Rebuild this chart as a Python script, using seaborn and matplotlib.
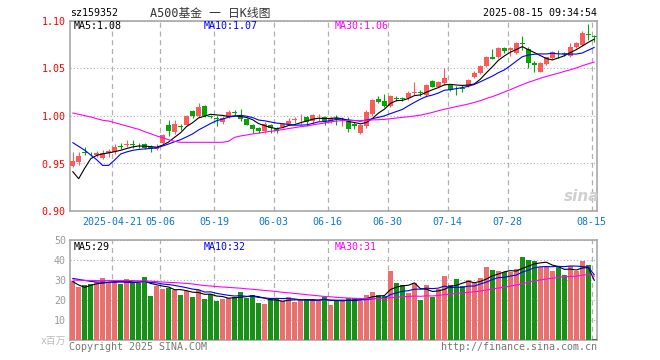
import numpy as np
import pandas as pd
import matplotlib
matplotlib.use("Agg")
import matplotlib.pyplot as plt
import seaborn as sns

# daily K line of sz159352, 2025-04-10 .. 2025-08-15 (88 trading days)
opens = [0.947, 0.952, 0.9625, 0.9605, 0.959, 0.956, 0.961, 0.9625, 0.9685, 0.969,
         0.9708, 0.9685, 0.9705, 0.967, 0.965, 0.9713, 0.9905, 0.9835, 0.990, 0.9905,
         1.005, 1.000, 1.0105, 1.0005, 0.998, 0.994, 0.9993, 1.0045, 1.001, 0.9965,
         0.9905, 0.987, 0.9837, 0.9908, 0.986, 0.9888, 0.9916, 0.9957, 0.9965, 0.9986,
         0.9947, 0.9995, 0.9993, 0.994, 0.9978, 0.995, 0.996, 0.9915, 0.9825, 0.989,
         1.002, 1.0175, 1.016, 1.0105, 1.0187, 1.0187, 1.0186, 1.0245, 1.0255, 1.022,
         1.0368, 1.031, 1.0345, 1.0326, 1.0295, 1.0295, 1.0316, 1.0407, 1.0456, 1.0526,
         1.0618, 1.0618, 1.072, 1.069, 1.066, 1.0765, 1.070, 1.0555, 1.0467, 1.0547,
         1.0607, 1.0665, 1.066, 1.063, 1.073, 1.0747, 1.0855, 1.0845]
highs = [0.962, 0.9625, 0.967, 0.962, 0.963, 0.964, 0.965, 0.971, 0.972, 0.975,
         0.975, 0.972, 0.9715, 0.969, 0.970, 0.981, 0.996, 0.9955, 0.9915, 1.001,
         1.0065, 1.0135, 1.0115, 1.0015, 0.9995, 1.000, 1.0063, 1.006, 1.0075, 0.9975,
         0.992, 0.9885, 0.994, 0.992, 0.988, 0.993, 0.9975, 0.9986, 1.002, 1.000,
         1.002, 1.002, 1.000, 0.9985, 1.001, 0.9985, 0.999, 0.994, 0.992, 1.0065,
         1.018, 1.021, 1.023, 1.022, 1.021, 1.0205, 1.026, 1.036, 1.0275, 1.034,
         1.038, 1.037, 1.050, 1.034, 1.032, 1.033, 1.039, 1.047, 1.0535, 1.063,
         1.071, 1.0725, 1.0725, 1.073, 1.0775, 1.084, 1.0725, 1.058, 1.057, 1.062,
         1.068, 1.0695, 1.067, 1.077, 1.078, 1.089, 1.097, 1.085]
lows = [0.946, 0.948, 0.959, 0.958, 0.957, 0.955, 0.957, 0.960, 0.965, 0.967,
        0.966, 0.966, 0.965, 0.962, 0.964, 0.970, 0.979, 0.981, 0.985, 0.990,
        0.998, 0.999, 0.999, 0.9975, 0.989, 0.992, 0.9975, 1.001, 0.995, 0.990,
        0.9825, 0.982, 0.9825, 0.9825, 0.982, 0.987, 0.9905, 0.993, 0.992, 0.9895,
        0.992, 0.995, 0.9905, 0.993, 0.9905, 0.9895, 0.9835, 0.986, 0.981, 0.9875,
        1.000, 1.0135, 1.0098, 1.0095, 1.0155, 1.016, 1.017, 1.022, 1.0215, 1.0205,
        1.0305, 1.030, 1.033, 1.026, 1.0225, 1.025, 1.031, 1.040, 1.0445, 1.052,
        1.0597, 1.061, 1.066, 1.063, 1.0655, 1.069, 1.051, 1.046, 1.046, 1.054,
        1.060, 1.061, 1.0635, 1.0625, 1.072, 1.074, 1.0805, 1.078]
closes = [0.9525, 0.958, 0.9615, 0.9595, 0.9612, 0.9607, 0.963, 0.9677, 0.967, 0.9705,
          0.969, 0.968, 0.9667, 0.965, 0.967, 0.980, 0.9845, 0.9915, 0.9888, 1.000,
          1.000, 1.0098, 1.000, 0.9993, 0.9965, 0.9975, 1.0042, 1.003, 0.9965, 0.991,
          0.986, 0.9837, 0.992, 0.987, 0.9845, 0.9916, 0.995, 0.9963, 0.9972, 0.9934,
          1.001, 1.0003, 0.995, 0.9975, 0.9965, 0.9958, 0.986, 0.990, 0.9905, 1.004,
          1.0165, 1.0145, 1.0105, 1.021, 1.0183, 1.018, 1.0246, 1.0255, 1.0245, 1.0326,
          1.031, 1.036, 1.0397, 1.0274, 1.029, 1.0288, 1.038, 1.0456, 1.0526, 1.0625,
          1.0604, 1.072, 1.0688, 1.072, 1.077, 1.0755, 1.0555, 1.054, 1.056, 1.0618,
          1.0677, 1.066, 1.0655, 1.073, 1.077, 1.087, 1.085, 1.083]
volumes = [29.5, 26.7, 27.5, 28.0, 28.8, 31.2, 28.7, 29.2, 28.0, 30.5,
           28.7, 28.3, 31.7, 22.2, 27.2, 25.5, 25.8, 25.0, 22.5, 24.5,
           21.7, 25.0, 20.5, 23.0, 19.7, 20.5, 20.8, 21.7, 24.2, 21.2,
           22.5, 18.7, 18.0, 20.3, 20.3, 19.5, 21.3, 19.2, 20.0, 20.5,
           20.0, 20.0, 21.3, 17.5, 19.7, 19.7, 20.8, 20.8, 19.7, 22.5,
           24.2, 22.5, 22.2, 34.7, 28.7, 27.5, 23.7, 28.3, 20.0, 27.5,
           21.7, 25.3, 32.0, 27.5, 30.3, 27.0, 30.0, 28.3, 30.8, 36.3,
           35.0, 34.5, 33.8, 33.8, 35.3, 41.7, 40.0, 39.5, 36.3, 37.0,
           34.5, 36.3, 32.5, 37.0, 34.7, 39.5, 37.5, 0.5]

# moving averages at the left edge (windows start before day 0)
ma5_head = [0.9415, 0.934, 0.945, 0.955]
ma10_head = [0.972, 0.968, 0.964, 0.959, 0.954, 0.948, 0.948, 0.9537, 0.960]
ma30_head = [1.0032, 1.0018, 1.0004, 0.999, 0.9972, 0.9955, 0.9947, 0.993, 0.9912, 0.9895,
             0.9877, 0.986, 0.9835, 0.9814, 0.979, 0.9772, 0.975, 0.9733, 0.9723, 0.9723,
             0.9723, 0.9723, 0.9723, 0.9723, 0.9723, 0.9723, 0.9735, 0.9775, 0.979]
vma5_head = [29.2, 27.5, 26.3, 27.3]
vma10_head = [30.8, 30.3, 29.8, 29.3, 29.0, 28.9, 28.9, 28.9, 29.0]
vma30_head = [30.0, 29.9, 29.8, 29.8, 29.7, 29.7, 29.7, 29.7, 29.7, 29.7,
              29.7, 29.6, 29.5, 29.4, 29.2, 29.0, 28.8, 28.7, 28.5, 28.3,
              28.0, 27.6, 27.2, 27.0, 26.7, 26.5, 26.3, 26.1, 25.9]

date_labels = ["2025-04-21", "05-06", "05-19", "06-03", "06-16", "06-30", "07-14", "07-28", "08-15"]
date_index = [7, 15, 24, 34, 43, 53, 63, 73, 87]

RED = "#ff5a5a"
GREEN = "#05a505"
FRAME = "#a0a0a0"
GRID = "#b0b0b0"


def moving_avg(values, n, head):
    ma = pd.Series(values).rolling(n).mean()
    ma.iloc[:len(head)] = head
    return ma


df = pd.DataFrame({"open": opens, "high": highs, "low": lows, "close": closes, "volume": volumes})
df["i"] = np.arange(len(df))
df["dir"] = np.where(df["close"] >= df["open"], "up", "down")
colors = np.where(df["dir"] == "up", RED, GREEN)

ma5 = moving_avg(closes, 5, ma5_head)
ma10 = moving_avg(closes, 10, ma10_head)
ma30 = moving_avg(closes, 30, ma30_head)
vma5 = moving_avg(volumes, 5, vma5_head)
vma10 = moving_avg(volumes, 10, vma10_head)
vma30 = moving_avg(volumes, 30, vma30_head)

sns.set_style("white")
plt.rcParams["font.family"] = ["DejaVu Sans Mono", "Noto Sans CJK SC"]

fig = plt.figure(figsize=(6.6, 3.6), dpi=100)
ax1 = fig.add_axes([70 / 660, 149 / 360, 527 / 660, 190 / 360])
ax2 = fig.add_axes([70 / 660, 20 / 360, 527 / 660, 100 / 360])

# candles
ax1.vlines(df["i"], df["low"], df["high"], colors=colors, lw=0.8, zorder=3)
body = np.maximum((df["close"] - df["open"]).abs(), 0.0008)
ax1.bar(df["i"], body, bottom=np.minimum(df["open"], df["close"]), width=0.75,
        color=colors, linewidth=0, zorder=3)

for ma, c in [(ma5, "black"), (ma10, "#0000ff"), (ma30, "#ff00ff")]:
    sns.lineplot(x=df["i"], y=ma, color=c, lw=0.8, ax=ax1, zorder=4)

# volume
sns.barplot(data=df, x="i", y="volume", hue="dir", palette={"up": RED, "down": GREEN},
            native_scale=True, dodge=False, width=0.9, errorbar=None, legend=False,
            linewidth=0, ax=ax2, zorder=3)
for ma, c in [(vma5, "black"), (vma10, "#0000ff"), (vma30, "#ff00ff")]:
    sns.lineplot(x=df["i"], y=ma, color=c, lw=0.8, ax=ax2, zorder=4)

tick_pos = [d - 0.45 for d in date_index]
for ax in (ax1, ax2):
    ax.set_xlim(-0.45, len(df) - 0.55)
    ax.set_xlabel("")
    ax.set_ylabel("")
    ax.set_xticks(tick_pos)
    ax.xaxis.grid(True, ls=(0, (4, 3)), color=GRID, lw=0.9)
    ax.yaxis.grid(True, ls=(0, (1, 2)), color=GRID, lw=0.8)
    ax.set_axisbelow(True)
    for s in ax.spines.values():
        s.set_color(FRAME)
        s.set_linewidth(1.1)

ax1.set_ylim(0.90, 1.10)
ax1.set_yticks([0.90, 0.95, 1.00, 1.05, 1.10])
ax1.set_yticklabels([f"{v:.2f}" for v in [0.90, 0.95, 1.00, 1.05, 1.10]])
ax1.set_xticklabels(date_labels)
ax1.tick_params(axis="y", length=0, pad=3, labelcolor="#ff0000", labelsize=7.2)
ax1.tick_params(axis="x", length=0, pad=4, labelcolor="#0a78d0", labelsize=7.2)

ax2.set_ylim(0, 50)
ax2.set_yticks([10, 20, 30, 40, 50])
ax2.set_xticklabels([])
ax2.tick_params(axis="y", length=0, pad=3, labelcolor="#9a9a9a", labelsize=7.2)
ax2.tick_params(axis="x", length=0)

# legend texts
fs = 7.2
ax1.text(0.0076, 0.974, f"MA5:{ma5.iloc[-1]:.2f}", transform=ax1.transAxes, va="center", fontsize=fs, color="black")
ax1.text(0.254, 0.974, f"MA10:{ma10.iloc[-1]:.2f}", transform=ax1.transAxes, va="center", fontsize=fs, color="#0000ff")
ax1.text(0.503, 0.974, f"MA30:{ma30.iloc[-1]:.2f}", transform=ax1.transAxes, va="center", fontsize=fs, color="#ff00ff")
ax2.text(0.0076, 0.933, f"MA5:{int(vma5.iloc[-1])}", transform=ax2.transAxes, va="center", fontsize=fs, color="black")
ax2.text(0.254, 0.933, f"MA10:{int(vma10.iloc[-1])}", transform=ax2.transAxes, va="center", fontsize=fs, color="#0000ff")
ax2.text(0.503, 0.933, f"MA30:{int(vma30.iloc[-1])}", transform=ax2.transAxes, va="center", fontsize=fs, color="#ff00ff")

ax1.text(0.97, 0.074, "sina", transform=ax1.transAxes, ha="center", va="center", fontsize=11,
         fontweight="bold", style="italic", color="#d0d0d0", family="DejaVu Sans")

# header / footer
fig.text(70 / 660, 1 - 13 / 360, "sz159352", va="center", fontsize=7.2, color="black")
fig.text(150 / 660, 1 - 13 / 360, "A500基金 一 日K线图", va="center", fontsize=8.5, color="#333333")
fig.text(597 / 660, 1 - 13 / 360, "2025-08-15 09:34:54", ha="right", va="center", fontsize=7.2, color="black")
fig.text(66 / 660, 1 - 341 / 360, "x百万", ha="right", va="center", fontsize=7, color="#bbbbbb")
fig.text(69 / 660, 1 - 347 / 360, "Copyright 2025 SINA.COM", va="center", fontsize=7.2, color="#777777")
fig.text(597 / 660, 1 - 347 / 360, "http://finance.sina.com.cn", ha="right", va="center", fontsize=7.2, color="#777777")

fig.savefig("out.png", dpi=100)
plt.close(fig)
